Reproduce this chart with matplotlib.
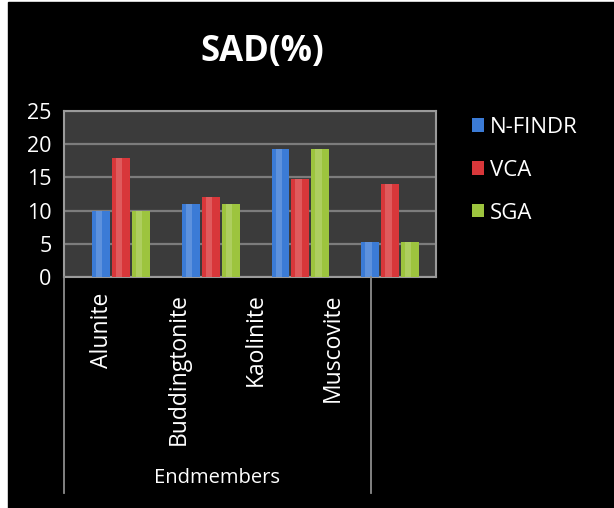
import numpy as np
import matplotlib.pyplot as plt
from matplotlib.lines import Line2D
from matplotlib.patches import Rectangle

plt.rcParams['font.family'] = ['Open Sans', 'DejaVu Sans']

categories = ["Alunite", "Buddingtonite", "Kaolinite", "Muscovite"]
nfindr = [9.9, 11.0, 19.3, 5.2]
vca = [17.9, 12.1, 14.8, 14.0]
sga = [9.9, 11.0, 19.3, 5.2]
series = ["N-FINDR", "VCA", "SGA"]
yticks = [0, 5, 10, 15, 20, 25]

W, H = 614, 508
fig = plt.figure(figsize=(W / 100, H / 100), dpi=100, facecolor="white")
# black chart background, with a thin white margin on the left/top
fig.patches.append(Rectangle((8 / W, 0), 1 - 8 / W, 1 - 2 / H,
                             transform=fig.transFigure, color="black", zorder=-10))

def px(x0, y0, x1, y1):
    # pixel box -> figure fraction [left, bottom, width, height]
    return [x0 / W, 1 - y1 / H, (x1 - x0) / W, (y1 - y0) / H]

ax = fig.add_axes(px(64, 111, 436, 277))
ax.set_facecolor("#3b3b3b")

x = np.arange(len(categories))
w = 0.2
step = 0.222
colors = ["#3b7bd6", "#d8373a", "#9dc43e"]
bars = []
for k, (vals, c) in enumerate(zip([nfindr, vca, sga], colors)):
    pos = x + (k - 1) * step
    b = ax.bar(pos, vals, width=w, color=c, zorder=3, label=series[k])
    # light stripe for a rounded look
    ax.bar(pos - 0.02, vals, width=w * 0.35, color="white", alpha=0.18, zorder=4)
    bars.append(b)

ax.set_xlim(-0.633, 3.51)
ax.set_ylim(0, 25)
ax.set_yticks(yticks)
ax.set_xticks([])
ax.tick_params(axis="y", length=0, pad=9, labelsize=15.5, labelcolor="white")
ax.yaxis.grid(True, color="#7c7c7c", linewidth=1.6, zorder=0)
for s in ax.spines.values():
    s.set_color("#9a9a9a")
    s.set_linewidth(1.5)

# category axis box below the plot
for xp in (64, 371):
    fig.add_artist(Line2D([xp / W, xp / W], [1 - 277 / H, 1 - 493 / H],
                          transform=fig.transFigure, color="#8c8c8c", lw=1.3))
cell = (371 - 64) / len(categories)
for i, name in enumerate(categories):
    fig.text((64 + (i + 0.5) * cell) / W, 1 - 293 / H, name, rotation=90,
             ha="center", va="top", color="white", fontsize=16.5)
fig.text(217 / W, 1 - 478 / H, "Endmembers", ha="center", va="center",
         color="white", fontsize=14.5)

fig.text(262 / W, 1 - 52 / H, "SAD(%)", ha="center", va="center",
         color="white", fontsize=25, fontweight="bold")

fig.legend(handles=bars, labels=series, loc="upper left",
           bbox_to_anchor=(452 / W, 1 - 97 / H), frameon=False,
           fontsize=16, labelcolor="white", handlelength=0.55, handleheight=0.55,
           handletextpad=0.25, labelspacing=0.98)

fig.savefig("out.png", dpi=100, facecolor=fig.get_facecolor())
